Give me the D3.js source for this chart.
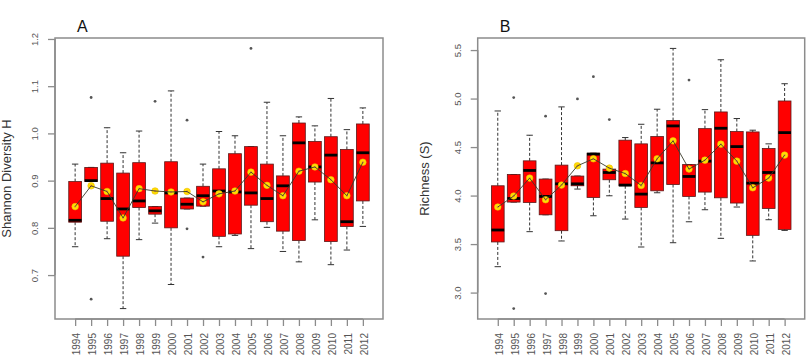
<!DOCTYPE html>
<html><head><meta charset="utf-8">
<script src="https://cdn.jsdelivr.net/npm/d3@7"></script>
<style>body{margin:0;background:#fff}svg{display:block}</style>
</head><body>
<svg id="chart" width="806" height="360"></svg>
<script>
const years = ["1994","1995","1996","1997","1998","1999","2000","2001","2002","2003","2004","2005","2006","2007","2008","2009","2010","2011","2012"];

// Panel A: Shannon Diversity H
const aLow  = [0.760,0.898,0.777,0.629,0.775,0.810,0.680,0.840,0.846,0.760,0.784,0.756,0.801,0.750,0.728,0.817,0.722,0.753,0.803];
const aQ1   = [0.812,0.898,0.814,0.740,0.843,0.829,0.800,0.840,0.846,0.782,0.787,0.848,0.813,0.793,0.773,0.897,0.771,0.803,0.857];
const aMed  = [0.816,0.900,0.862,0.840,0.857,0.836,0.874,0.850,0.868,0.878,0.876,0.874,0.862,0.889,0.980,0.929,0.954,0.813,0.959];
const aQ3   = [0.898,0.928,0.937,0.916,0.938,0.845,0.940,0.863,0.888,0.925,0.957,0.972,0.935,0.910,1.022,0.983,0.993,0.966,1.020];
const aHigh = [0.935,0.928,1.012,0.959,1.005,0.845,1.090,0.863,0.935,1.004,0.995,0.972,1.066,0.995,1.035,1.016,1.074,1.008,1.054];
const aMean = [0.845,0.889,0.877,0.821,0.883,0.878,0.876,0.877,0.855,0.872,0.878,0.918,0.890,0.868,0.920,0.929,0.902,0.868,0.939];
const aOutYear = ["1995","1995","1999","2001","2001","2002","2005"];
const aOutVal  = [1.076,0.649,1.068,1.028,0.798,0.738,1.180];
const aTicks = [0.7,0.8,0.9,1.0,1.1,1.2];

// Panel B: Richness (S)
const bLow  = [3.267,3.933,3.628,3.802,3.532,4.067,3.792,3.998,3.758,3.470,4.029,3.514,3.730,3.854,3.559,3.882,3.326,3.751,3.641];
const bQ1   = [3.522,3.933,3.929,3.802,3.638,4.101,3.981,4.163,4.101,3.878,4.049,4.114,3.991,4.036,3.977,3.923,3.590,3.867,3.651];
const bMed  = [3.645,3.970,4.259,3.991,4.121,4.121,4.427,4.238,4.108,4.015,4.337,4.718,4.197,4.355,4.694,4.505,4.128,4.238,4.649];
const bQ3   = [4.101,4.217,4.358,4.170,4.314,4.201,4.437,4.273,4.571,4.533,4.608,4.773,4.320,4.690,4.862,4.660,4.656,4.485,4.975];
const bHigh = [4.872,4.217,4.622,4.170,4.914,4.201,4.437,4.273,4.598,4.735,4.890,5.517,4.320,4.886,5.400,4.794,4.674,4.533,5.153];
const bMean = [3.882,3.995,4.180,3.957,4.108,4.307,4.379,4.283,4.227,4.104,4.379,4.564,4.273,4.365,4.530,4.355,4.080,4.180,4.417];
const bOutYear = ["1995","1995","1997","1997","1999","2000","2001","2006"];
const bOutVal  = [5.010,2.835,4.818,2.990,4.996,5.226,4.783,5.191];
const bTicks = [3.0,3.5,4.0,4.5,5.0,5.5];

const svg = d3.select("#chart");
const FONT = "'Liberation Sans', Arial, sans-serif";

function drawPanel(p) {
  const g = svg.append("g");
  const n = years.length;
  const idx = d3.scaleOrdinal().domain(years).range(d3.range(1, n + 1));
  const pad = n * 0.04;
  const x = d3.scaleLinear().domain([0.5 - pad, n + 0.5 + pad]).range([p.left, p.right]);
  const allVals = p.low.concat(p.high, p.outVal);
  const lo = d3.min(allVals), hi = d3.max(allVals);
  const ypad = (hi - lo) * 0.04;
  const y = d3.scaleLinear().domain([lo - ypad, hi + ypad]).range([p.bottom, p.top]);
  const step = x(2) - x(1);
  const bw = step * 0.8 / 2;
  const cw = bw / 2;

  const data = years.map((yr, i) => ({yr, i: i + 1, low: p.low[i], q1: p.q1[i], med: p.med[i], q3: p.q3[i], high: p.high[i], mean: p.mean[i]}));

  // whiskers
  g.selectAll(".wh").data(data).join("g").each(function(d) {
    const s = d3.select(this);
    s.append("line").attr("x1", x(d.i)).attr("x2", x(d.i)).attr("y1", y(d.q3)).attr("y2", y(d.high))
      .attr("stroke", "#333").attr("stroke-width", 1).attr("stroke-dasharray", "3,2");
    s.append("line").attr("x1", x(d.i)).attr("x2", x(d.i)).attr("y1", y(d.q1)).attr("y2", y(d.low))
      .attr("stroke", "#333").attr("stroke-width", 1).attr("stroke-dasharray", "3,2");
    s.append("line").attr("x1", x(d.i) - cw).attr("x2", x(d.i) + cw).attr("y1", y(d.high)).attr("y2", y(d.high))
      .attr("stroke", "#333").attr("stroke-width", 1);
    s.append("line").attr("x1", x(d.i) - cw).attr("x2", x(d.i) + cw).attr("y1", y(d.low)).attr("y2", y(d.low))
      .attr("stroke", "#333").attr("stroke-width", 1);
  });
  // boxes
  g.selectAll(".bx").data(data).join("rect")
    .attr("x", d => x(d.i) - bw).attr("width", bw * 2)
    .attr("y", d => y(d.q3)).attr("height", d => Math.max(0.5, y(d.q1) - y(d.q3)))
    .attr("fill", "#ff0000").attr("stroke", "#5a1a1a").attr("stroke-width", 0.8);
  // medians
  g.selectAll(".md").data(data).join("line")
    .attr("x1", d => x(d.i) - bw).attr("x2", d => x(d.i) + bw)
    .attr("y1", d => y(d.med)).attr("y2", d => y(d.med))
    .attr("stroke", "#000").attr("stroke-width", 2.8);
  // outliers
  g.selectAll(".ou").data(p.outVal).join("circle")
    .attr("cx", (d, k) => x(idx(p.outYear[k]))).attr("cy", d => y(d))
    .attr("r", 1.4).attr("fill", "#555");
  // means
  g.selectAll(".mn").data(data).join("circle")
    .attr("cx", d => x(d.i)).attr("cy", d => y(d.mean)).attr("r", 3.3)
    .attr("fill", "#ffe100").attr("stroke", "#f0b800").attr("stroke-width", 0.6);
  g.selectAll(".mc").data(data).join("circle")
    .attr("cx", d => x(d.i)).attr("cy", d => y(d.mean)).attr("r", 1.2)
    .attr("fill", "#f0a030");
  g.append("path").datum(data)
    .attr("d", d3.line().x(d => x(d.i)).y(d => y(d.mean)))
    .attr("fill", "none").attr("stroke", "#3a3a2a").attr("stroke-width", 0.9);

  // frame
  g.append("rect").attr("x", p.left).attr("y", p.top).attr("width", p.right - p.left).attr("height", p.bottom - p.top)
    .attr("fill", "none").attr("stroke", "#8c8c8c").attr("stroke-width", 1.5);

  // y axis
  const ya = g.append("g").attr("transform", `translate(${p.left},0)`)
    .call(d3.axisLeft(y).tickValues(p.ticks).tickSize(7).tickFormat(d3.format(".1f")));
  ya.select(".domain").attr("stroke", "#8c8c8c").attr("stroke-width", 1.5)
    .attr("d", `M0,${y(p.ticks[0])}V${y(p.ticks[p.ticks.length - 1])}`);
  ya.selectAll(".tick line").attr("stroke", "#8c8c8c").attr("stroke-width", 1.3);
  ya.selectAll(".tick text")
    .attr("x", 0).attr("y", 0).attr("dy", null)
    .attr("transform", "translate(-17,0) rotate(-90)")
    .attr("text-anchor", "middle")
    .attr("font-family", FONT).attr("font-size", 9.5).attr("fill", "#555");

  // x axis
  const xa = g.append("g").attr("transform", `translate(0,${p.bottom})`)
    .call(d3.axisBottom(x).tickValues(d3.range(1, n + 1)).tickSize(7).tickFormat(d => years[d - 1]));
  xa.select(".domain").attr("stroke", "#8c8c8c").attr("stroke-width", 1.5)
    .attr("d", `M${x(1)},0H${x(n)}`);
  xa.selectAll(".tick line").attr("stroke", "#8c8c8c").attr("stroke-width", 1.3);
  xa.selectAll(".tick text")
    .attr("x", 0).attr("y", 0).attr("dy", null)
    .attr("transform", "translate(4.5,14) rotate(-90)")
    .attr("text-anchor", "end")
    .attr("font-family", FONT).attr("font-size", 10).attr("fill", "#555");

  // titles
  g.append("text").attr("x", p.left + 22).attr("y", 32).text(p.title)
    .attr("font-family", FONT).attr("font-size", 16).attr("fill", "#111");
  g.append("text").attr("transform", `translate(${Math.max(p.left - 48.7, 10.5)},${(p.top + p.bottom) / 2}) rotate(-90)`)
    .attr("text-anchor", "middle").text(p.ylabel)
    .attr("font-family", FONT).attr("font-size", 13).attr("fill", "#333");
}

drawPanel({left: 55, right: 383, top: 38, bottom: 319, title: "A", ylabel: "Shannon Diversity H",
  low: aLow, q1: aQ1, med: aMed, q3: aQ3, high: aHigh, mean: aMean, outYear: aOutYear, outVal: aOutVal, ticks: aTicks});
drawPanel({left: 477.7, right: 804.7, top: 38, bottom: 319, title: "B", ylabel: "Richness (S)",
  low: bLow, q1: bQ1, med: bMed, q3: bQ3, high: bHigh, mean: bMean, outYear: bOutYear, outVal: bOutVal, ticks: bTicks});
</script>
</body></html>
